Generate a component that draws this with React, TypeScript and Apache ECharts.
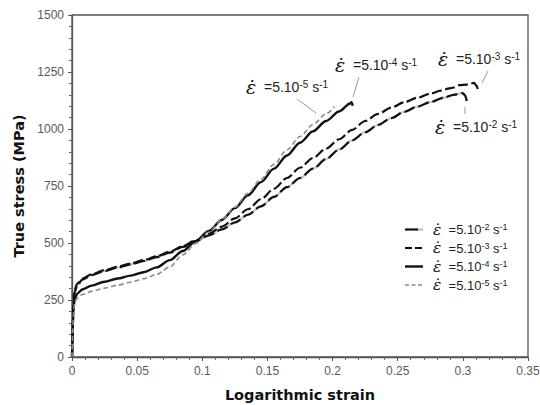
import React, { useEffect, useRef } from "react";
import * as echarts from "echarts";

// ---- data ----
// strain rate 5.10^-2 s^-1
const strain2 = [0, 0.0005, 0.001, 0.002, 0.004, 0.008, 0.015, 0.025, 0.035, 0.045, 0.055, 0.065, 0.075, 0.085, 0.095, 0.105, 0.115, 0.125, 0.135, 0.145, 0.155, 0.165, 0.175, 0.185, 0.195, 0.205, 0.215, 0.225, 0.235, 0.245, 0.255, 0.265, 0.275, 0.285, 0.293, 0.2995, 0.3015, 0.303];
const stress2 = [0, 120, 220, 285, 315, 339, 359, 377, 392, 406, 421, 438, 458, 483, 508, 533, 560, 590, 624, 661, 702, 745, 785, 826, 868, 910, 950, 986, 1018, 1048, 1075, 1098, 1118, 1137, 1150, 1158, 1150, 1123];
// strain rate 5.10^-3 s^-1
const strain3 = [0, 0.0005, 0.001, 0.002, 0.004, 0.008, 0.015, 0.025, 0.035, 0.045, 0.055, 0.065, 0.075, 0.085, 0.095, 0.105, 0.115, 0.125, 0.135, 0.145, 0.155, 0.165, 0.175, 0.185, 0.195, 0.205, 0.215, 0.225, 0.235, 0.245, 0.255, 0.265, 0.275, 0.283, 0.2895, 0.293, 0.297, 0.303, 0.3086, 0.3105, 0.3117];
const stress3 = [0, 130, 230, 295, 322, 344, 363, 381, 396, 410, 425, 442, 462, 486, 512, 540, 572, 608, 648, 692, 738, 785, 830, 873, 914, 955, 996, 1035, 1066, 1094, 1117, 1137, 1155, 1168, 1178, 1182, 1192, 1195, 1202, 1190, 1167];
// strain rate 5.10^-4 s^-1
const strain4 = [0, 0.0005, 0.001, 0.002, 0.004, 0.008, 0.015, 0.025, 0.035, 0.045, 0.055, 0.065, 0.075, 0.085, 0.095, 0.105, 0.115, 0.125, 0.135, 0.145, 0.155, 0.165, 0.175, 0.185, 0.195, 0.205, 0.2135, 0.2145, 0.2155];
const stress4 = [0, 110, 200, 255, 278, 296, 313, 330, 344, 357, 372, 393, 425, 465, 508, 553, 601, 653, 709, 767, 826, 884, 940, 990, 1035, 1077, 1112, 1118, 1102];
// strain rate 5.10^-5 s^-1
const strain5 = [0, 0.0005, 0.001, 0.002, 0.004, 0.008, 0.015, 0.025, 0.035, 0.045, 0.055, 0.065, 0.075, 0.085, 0.095, 0.105, 0.115, 0.125, 0.135, 0.145, 0.155, 0.165, 0.175, 0.185, 0.195, 0.2014];
const stress5 = [0, 100, 185, 238, 258, 274, 288, 302, 315, 328, 343, 362, 395, 448, 498, 548, 601, 657, 718, 780, 845, 908, 967, 1020, 1066, 1098];

const rateExponents = ["-2", "-3", "-4", "-5"];
const xMin = 0, xMax = 0.35, xStep = 0.05;
const yMin = 0, yMax = 1500, yStep = 250;

const pairs = (xs: number[], ys: number[]) => xs.map((x, i) => [x, ys[i]]);

const rateText = (exp: string) => `{e|\u03B5\u0307}{t|  =5.10}{s|${exp}}{t| s}{s|-1}`;

const richFor = (base: number, eps: number) => ({
  e: { fontFamily: "DejaVu Serif", fontStyle: "italic", fontSize: eps, lineHeight: base + 1, fill: "#111" },
  t: { fontFamily: "Liberation Sans", fontSize: base, lineHeight: base + 1, fill: "#222" },
  s: { fontFamily: "Liberation Sans", fontSize: Math.round(base * 0.7), fill: "#222", verticalAlign: "top", lineHeight: base - 2 },
});

export default function App() {
  const ref = useRef<HTMLDivElement>(null);
  useEffect(() => {
    if (!ref.current) return;
    const chart = echarts.init(ref.current, undefined, { renderer: "svg" });

    const annRich = richFor(14, 19);
    const legRich = richFor(13, 15.5);

    // annotations: [exponent index, text x, text y, leader x1,y1,x2,y2]
    const annotations: [number, number, number, number, number, number, number][] = [
      [3, 246, 87, 297, 99, 316, 113],
      [2, 335, 65, 359, 77, 353, 97],
      [1, 438, 59, 488, 71, 482, 83],
      [0, 435, 127, 465, 107, 465, 114],
    ];

    const graphic: any[] = [];
    annotations.forEach(([k, tx, ty, x1, y1, x2, y2]) => {
      graphic.push({
        type: "line",
        shape: { x1, y1, x2, y2 },
        style: { stroke: "#9a9a9a", lineWidth: 1 },
        z: 10,
      });
      graphic.push({
        type: "text",
        x: tx,
        y: ty,
        style: { text: rateText(rateExponents[k]), rich: annRich, align: "left", verticalAlign: "middle" },
        z: 10,
      });
    });

    // legend
    const rowY = [229.5, 248, 266.5, 285];
    const lx1 = 405, lx2 = 423;
    graphic.push({ type: "line", shape: { x1: lx1, y1: rowY[0], x2: 418, y2: rowY[0] }, style: { stroke: "#111", lineWidth: 2.2 } });
    graphic.push({ type: "line", shape: { x1: 418, y1: rowY[0], x2: lx2, y2: rowY[0] }, style: { stroke: "#bdbdbd", lineWidth: 2.2 } });
    graphic.push({ type: "line", shape: { x1: lx1, y1: rowY[1], x2: lx2, y2: rowY[1] }, style: { stroke: "#111", lineWidth: 2, lineDash: [7, 3] } });
    graphic.push({ type: "line", shape: { x1: lx1, y1: rowY[2], x2: lx2, y2: rowY[2] }, style: { stroke: "#111", lineWidth: 2.4 } });
    graphic.push({ type: "line", shape: { x1: lx1, y1: rowY[3], x2: lx2, y2: rowY[3] }, style: { stroke: "#8a8a8a", lineWidth: 1.5, lineDash: [4, 2.5] } });
    rowY.forEach((y, k) => {
      graphic.push({
        type: "text",
        x: 433,
        y,
        style: { text: rateText(rateExponents[k]), rich: legRich, align: "left", verticalAlign: "middle" },
      });
    });

    const lineBase = { type: "line", showSymbol: false, symbol: "none", smooth: 0.3, smoothMonotone: "x" };

    chart.setOption({
      animation: false,
      grid: {
        left: 72, right: 12, top: 15, bottom: 48,
        containLabel: false, outerBoundsMode: "none",
        show: true, borderColor: "#555", borderWidth: 1.3, backgroundColor: "transparent",
      },
      xAxis: {
        type: "value",
        min: xMin,
        max: xMax,
        interval: xStep,
        name: "Logarithmic strain",
        nameLocation: "middle",
        nameGap: 30,
        nameTextStyle: { fontFamily: "DejaVu Sans", fontWeight: "bold", fontSize: 14.5, color: "#111" },
        axisLine: { show: true, onZero: false, lineStyle: { color: "#555", width: 1.3 } },
        axisTick: { show: true, inside: false, length: 4, lineStyle: { color: "#555" } },
        minorTick: { show: true, splitNumber: 5, length: 3, lineStyle: { color: "#666" } },
        splitLine: { show: false },
        axisLabel: { fontFamily: "Liberation Sans", fontSize: 12, color: "#595959", margin: 8, formatter: (v: number) => String(v) },
      },
      yAxis: {
        type: "value",
        min: yMin,
        max: yMax,
        interval: yStep,
        name: "True stress (MPa)",
        nameLocation: "middle",
        nameGap: 44,
        nameTextStyle: { fontFamily: "DejaVu Sans", fontWeight: "bold", fontSize: 14.5, color: "#111" },
        axisLine: { show: true, onZero: false, lineStyle: { color: "#555", width: 1.3 } },
        axisTick: { show: true, inside: false, length: 4, lineStyle: { color: "#555" } },
        minorTick: { show: true, splitNumber: 5, length: 3, lineStyle: { color: "#666" } },
        splitLine: { show: false },
        axisLabel: { fontFamily: "Liberation Sans", fontSize: 12, color: "#595959", margin: 8, formatter: (v: number) => String(v) },
      },
      series: [
        { ...lineBase, name: "5e-2 base", data: pairs(strain2, stress2), lineStyle: { color: "#c4c4c4", width: 2.3 }, z: 2 },
        { ...lineBase, name: "5e-2", data: pairs(strain2, stress2), lineStyle: { color: "#111", width: 2.2, type: [11, 4] }, z: 3 },
        { ...lineBase, name: "5e-3", data: pairs(strain3, stress3), lineStyle: { color: "#111", width: 2.2, type: [10, 3.5] }, z: 3 },
        { ...lineBase, name: "5e-4", data: pairs(strain4, stress4), lineStyle: { color: "#111", width: 2.4 }, z: 3 },
        { ...lineBase, name: "5e-5", data: pairs(strain5, stress5), lineStyle: { color: "#8a8a8a", width: 1.6, type: [5, 3] }, z: 4 },
      ],
      graphic,
    });
    return () => chart.dispose();
  }, []);
  return <div ref={ref} style={{ width: 540, height: 405, position: "absolute", left: 0, top: 0 }} />;
}
